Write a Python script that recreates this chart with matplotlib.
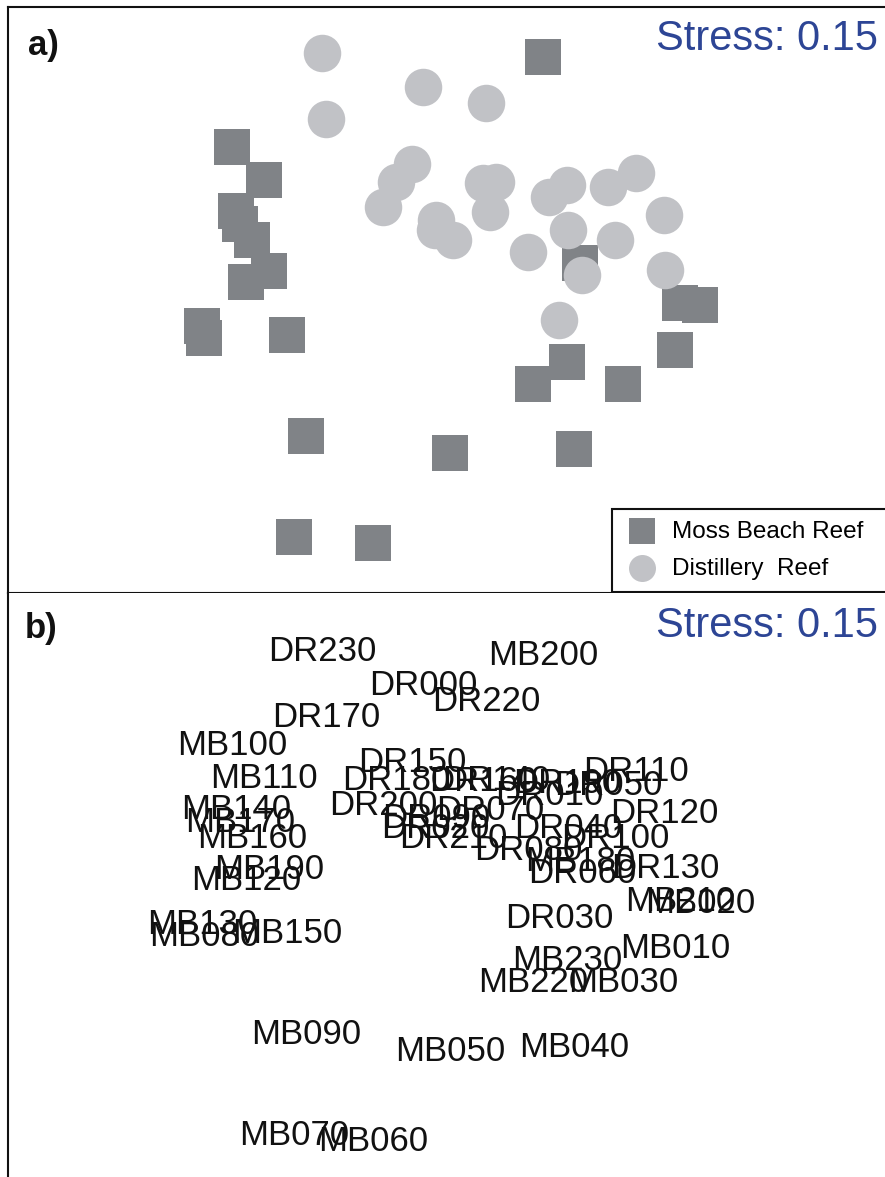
import numpy as np
import matplotlib
matplotlib.use('Agg')
import matplotlib.pyplot as plt

"""nMDS ordination of Moss Beach Reef (MB) and Distillery Reef (DR) samples"""

mb_names = ['MB010', 'MB020', 'MB030', 'MB040', 'MB050', 'MB060', 'MB070', 'MB080',
            'MB090', 'MB100', 'MB110', 'MB120', 'MB130', 'MB140', 'MB150', 'MB160',
            'MB170', 'MB180', 'MB190', 'MB200', 'MB210', 'MB220', 'MB230']
mb_x = [2.25, 2.50, 1.73, 1.24, 0.00, -0.77, -1.56, -2.46,
        -1.44, -2.18, -1.86, -2.04, -2.48, -2.14, -1.63, -1.98,
        -2.10, 1.30, -1.81, 0.93, 2.30, 0.83, 1.17]
mb_y = [-0.50, -0.05, -0.84, -1.49, -1.53, -2.43, -2.37, -0.38,
        -1.36, 1.53, 1.20, 0.18, -0.26, 0.89, -0.35, 0.60,
        0.76, 0.37, 0.29, 2.43, -0.03, -0.84, -0.62]

dr_names = ['DR000', 'DR010', 'DR020', 'DR030', 'DR040', 'DR050', 'DR060', 'DR070',
            'DR080', 'DR090', 'DR100', 'DR110', 'DR120', 'DR130', 'DR140', 'DR150',
            'DR160', 'DR170', 'DR180', 'DR190', 'DR200', 'DR210', 'DR220', 'DR230']
dr_x = [-0.27, 0.99, -0.15, 1.09, 1.18, 1.58, 1.32, 0.40,
        0.78, -0.14, 1.65, 1.86, 2.14, 2.15, 0.46, -0.38,
        0.33, -1.24, -0.54, 1.17, -0.67, 0.03, 0.36, -1.28]
dr_y = [2.13, 1.03, 0.70, -0.20, 0.70, 1.13, 0.25, 0.88,
        0.48, 0.80, 0.60, 1.27, 0.85, 0.30, 1.18, 1.36,
        1.17, 1.81, 1.18, 1.15, 0.93, 0.60, 1.97, 2.47]

stress = 0.15

sq_col = '#808387'
ci_col = '#c1c2c6'
blue = '#2d4595'
plt.rcParams['font.family'] = ['Liberation Sans', 'DejaVu Sans']

W, H = 885, 1177
fig = plt.figure(figsize=(W/100, H/100), dpi=100)

"""a) symbols"""
axa = fig.add_axes([8/W, 1-593/H, 884/W, 586/H])
axa.scatter(mb_x, mb_y, marker='s', s=26**2, c=sq_col, linewidths=0, label='Moss Beach Reef')
axa.scatter(dr_x, dr_y, marker='o', s=27**2, c=ci_col, linewidths=0, label='Distillery  Reef')
axa.set_xlim(-4.42, 4.42)
axa.set_ylim(-2.93, 2.93)
axa.set_xticks([])
axa.set_yticks([])
for s in axa.spines.values():
    s.set_linewidth(1.5)
    s.set_color('#111111')
axa.text(0.0226, 0.935, 'a)', transform=axa.transAxes, fontsize=25, fontweight='bold',
         ha='left', va='center', color='#111111')
axa.text(0.984, 0.945, 'Stress: %.2f' % stress, transform=axa.transAxes, fontsize=30,
         ha='right', va='center', color=blue)
leg = axa.legend(loc='lower left', bbox_to_anchor=(612/W, 1-592/H, 280/W, 0.07),
                 bbox_transform=fig.transFigure, mode='expand',
                 borderaxespad=0, fancybox=False, edgecolor='#111111', framealpha=1,
                 markerscale=0.72, handletextpad=0.45, labelspacing=0.62, borderpad=0.5,
                 handlelength=1.5, prop={'size': 17.5})
leg.get_frame().set_linewidth(1.5)

"""b) sample labels"""
axb = fig.add_axes([8/W, 1-1179/H, 884/W, 586/H])
axb.set_xlim(-4.42, 4.42)
axb.set_ylim(-2.84, 3.02)
axb.set_xticks([])
axb.set_yticks([])
axb.spines['right'].set_visible(False)
axb.spines['bottom'].set_visible(False)
axb.spines['top'].set_visible(False)
axb.spines['left'].set_linewidth(1.5)
axb.spines['left'].set_color('#111111')
for n, x, y in zip(dr_names, dr_x, dr_y):
    axb.text(x, y, n, fontsize=25, ha='center', va='center_baseline', color='#111111')
for n, x, y in zip(mb_names, mb_x, mb_y):
    axb.text(x, y, n, fontsize=25, ha='center', va='center_baseline', color='#111111')
axb.text(0.019, 0.94, 'b)', transform=axb.transAxes, fontsize=25, fontweight='bold',
         ha='left', va='center', color='#111111')
axb.text(0.984, 0.943, 'Stress: %.2f' % stress, transform=axb.transAxes, fontsize=30,
         ha='right', va='center', color=blue)

fig.savefig('out.png', dpi=100)
